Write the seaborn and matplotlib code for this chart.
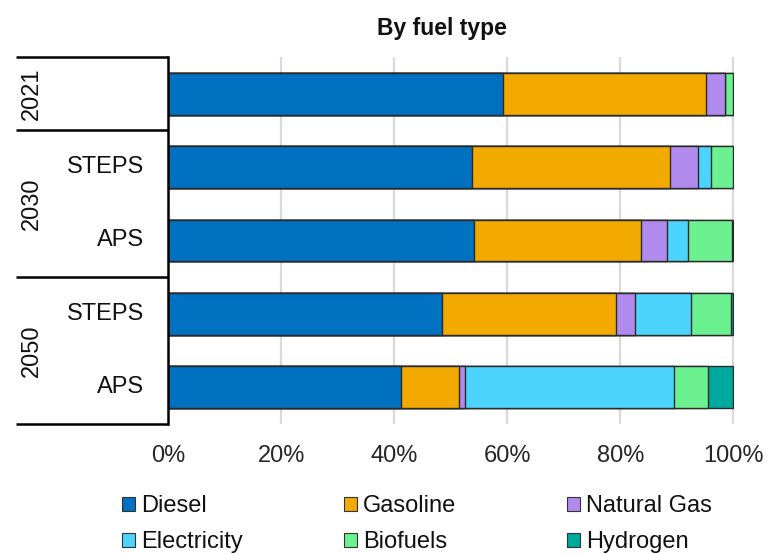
import matplotlib
matplotlib.use("Agg")
import matplotlib.pyplot as plt
from matplotlib.patches import Patch
import numpy as np
import pandas as pd
import seaborn as sns

# Fuel shares (%) per year / scenario
rows = ["2021", "2030 STEPS", "2030 APS", "2050 STEPS", "2050 APS"]
scenarios = ["", "STEPS", "APS", "STEPS", "APS"]
years = ["2021", "2030", "2050"]
year_centers = [0, 1.5, 3.5]
year_bounds = [-0.5, 0.5, 2.5, 4.5]

fuels = ["Diesel", "Gasoline", "Natural Gas", "Electricity", "Biofuels", "Hydrogen"]
diesel = [59.2, 53.7, 54.1, 48.4, 41.2]
gasoline = [36.0, 35.1, 29.6, 30.8, 10.2]
natural_gas = [3.3, 4.9, 4.5, 3.5, 1.1]
electricity = [0.0, 2.3, 3.8, 9.9, 37.1]
biofuels = [1.5, 4.0, 7.8, 7.0, 6.0]
hydrogen = [0.0, 0.0, 0.2, 0.4, 4.4]

colors = ["#0070C0", "#F2A900", "#B18AEE", "#4CD3FE", "#6CF190", "#00A89E"]
xticks = [0, 20, 40, 60, 80, 100]

FS = 17

sns.set_theme(style="white")
plt.rcParams["font.family"] = ["Liberation Sans", "DejaVu Sans"]
plt.rcParams["text.color"] = "#111111"

df = pd.DataFrame({"row": rows, "Diesel": diesel, "Gasoline": gasoline,
                   "Natural Gas": natural_gas, "Electricity": electricity,
                   "Biofuels": biofuels, "Hydrogen": hydrogen})
cum = df[fuels].cumsum(axis=1)
for f in fuels:
    df["cum_" + f] = cum[f]

fig = plt.figure(figsize=(7.71, 5.54), dpi=100)
ax = fig.add_axes([168.3 / 771, 130 / 554, 566 / 771, 367 / 554])

# stacked bars: draw cumulative totals from the last fuel back to the first
for f, c in reversed(list(zip(fuels, colors))):
    sns.barplot(data=df, x="cum_" + f, y="row", order=rows, orient="h",
                color=c, saturation=1, width=0.57, errorbar=None,
                edgecolor="#2a2a2a", linewidth=1.0, ax=ax)

ax.set_xlim(0, 100.2)
ax.set_ylim(4.5, -0.5)
ax.set_xticks(xticks)
ax.set_xticklabels([f"{t}%" for t in xticks], fontsize=FS)
ax.set_yticks([])
ax.set_xlabel("")
ax.set_ylabel("")
ax.tick_params(axis="x", length=0, pad=15)
ax.xaxis.grid(True, color="#d9d9d9", linewidth=1.6)
ax.set_axisbelow(True)
for s in ["top", "right", "bottom"]:
    ax.spines[s].set_visible(False)
ax.spines["left"].set_color("black")
ax.spines["left"].set_linewidth(1.8)

# grouped category axis on the left
trans = ax.get_yaxis_transform()
for yb in year_bounds:
    ax.plot([-0.269, 0], [yb, yb], color="black", lw=1.8, transform=trans,
            clip_on=False, solid_capstyle="butt")
for yr, yc in zip(years, year_centers):
    ax.text(-0.2413, yc, yr, rotation=90, ha="center", va="center",
            fontsize=FS, transform=trans)
for i, sc in enumerate(scenarios):
    if sc:
        ax.text(-0.0424, i, sc, ha="right", va="center", fontsize=FS,
                transform=trans)

fig.text(441.7 / 771, 1 - 28 / 554, "By fuel type", ha="center", va="center",
         fontsize=16.5, fontweight="bold")

# legend in three columns
handles = [Patch(facecolor=c, edgecolor="#333333", linewidth=0.8, label=f)
           for f, c in zip(fuels, colors)]
col_x = [122 / 771, 344 / 771, 567 / 771]
for k in range(3):
    fig.legend(handles=[handles[k], handles[k + 3]], loc="upper left",
               bbox_to_anchor=(col_x[k], 1 - 495 / 554), frameon=False,
               fontsize=FS, handlelength=0.55, handleheight=0.55,
               handletextpad=0.25, labelspacing=0.6, borderpad=0,
               borderaxespad=0)

fig.savefig("out.png", dpi=100)
